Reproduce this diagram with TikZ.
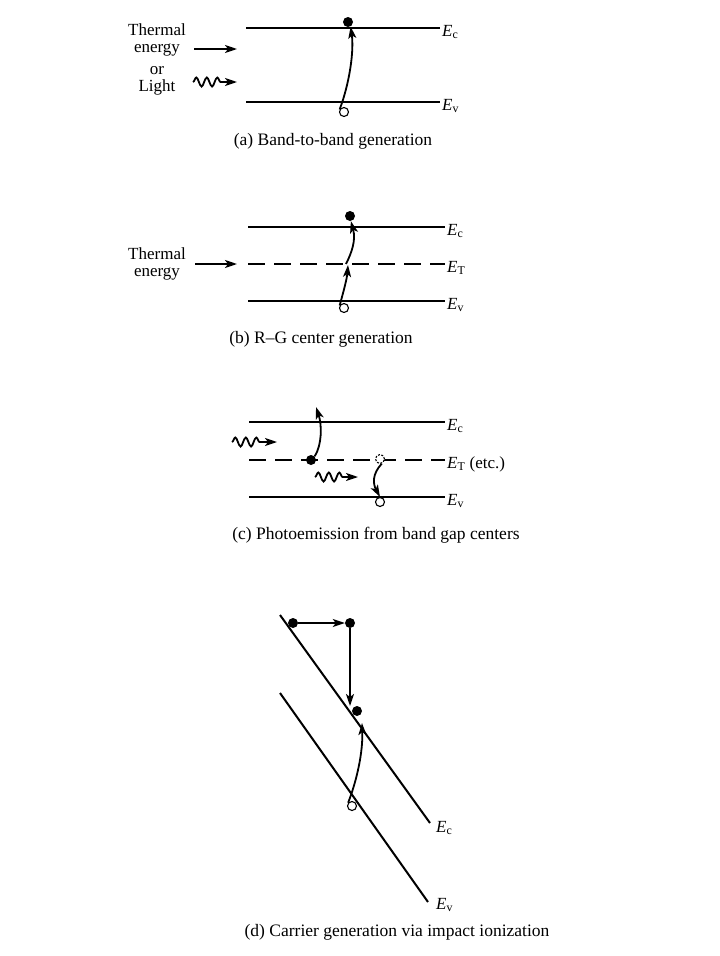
\documentclass[tikz,border=0pt]{standalone}
\usepackage{fontspec}
\setmainfont{Liberation Serif}
\usetikzlibrary{arrows.meta,decorations.pathmorphing,positioning}
\tikzset{
	band/.style={line width=2pt},
	trap/.style={line width=2pt, dash pattern=on 17pt off 9pt},
	elec/.style={circle, fill, inner sep=0pt, minimum size=10pt},
	hole/.style={circle, draw, line width=1.1pt, inner sep=0pt, minimum size=9pt},
	emptystate/.style={hole, dash pattern=on 2pt off 1.5pt},
	jump/.style={line width=1.8pt, -{Stealth[length=12pt,width=8pt,inset=3pt]}},
	photon/.style={jump, decorate, decoration={snake, amplitude=4.5pt, segment length=10.5pt, post length=13pt}},
	lbl/.style={font=\fontsize{17}{17.5}\selectfont, inner sep=1pt},
	subcap/.style={font=\fontsize{17.5}{18}\selectfont, inner sep=1pt}
}
\newcommand{\Eband}[1]{\textit{E}\textsubscript{#1}}

\begin{document}
\begin{tikzpicture}[x=1pt,y=-1pt]
	\useasboundingbox (0,0) rectangle (720,956);
	
	%(a) band-to-band
	\coordinate (ca1) at (246,28);	\coordinate (ca2) at (440,28);
	\coordinate (va1) at (246,102);	\coordinate (va2) at (440,102);
	\draw[band] (ca1)--(ca2);	\node[lbl,right=1pt of ca2,yshift=-4pt] (lca) {\Eband{c}};
	\draw[band] (va1)--(va2);	\node[lbl,right=1pt of va2,yshift=-4pt] (lva) {\Eband{v}};
	\node[elec] (ea) at (348,22) {};
	\node[hole] (ha) at (344,112) {};
	\draw[jump] (ha.150) .. controls (350,82) and (354,50) .. (ea.-60);
	\node[lbl,align=center] (tha) at (157,40) {Thermal\\energy};
	\node[lbl,align=center] (lia) at (157,81) {or\\Light};
	\coordinate (ta1) at (194,49);	\coordinate (ta2) at (237,49);	\draw[jump] (ta1)--(ta2);
	\coordinate (pa1) at (193,82);	\coordinate (pa2) at (237,82);	\draw[photon] (pa1)--(pa2);
	\node[subcap] (capa) at (333,141) {(a) Band-to-band generation};
	
	%(b) R-G center
	\coordinate (cb1) at (248,227);	\coordinate (cb2) at (445,227);
	\coordinate (tb1) at (248,264);	\coordinate (tb2) at (445,264);
	\coordinate (vb1) at (248,301);	\coordinate (vb2) at (445,301);
	\draw[band] (cb1)--(cb2);	\node[lbl,right=1pt of cb2,yshift=-4pt] (lcb) {\Eband{c}};
	\draw[trap] (tb1)--(tb2);	\node[lbl,right=1pt of tb2,yshift=-4pt] (ltb) {\Eband{T}};
	\draw[band] (vb1)--(vb2);	\node[lbl,right=1pt of vb2,yshift=-4pt] (lvb) {\Eband{v}};
	\node[elec] (eb) at (350,216) {};
	\node[hole] (hb) at (344,308) {};
	\coordinate (kb) at (346,264);
	\draw[jump] (hb.150) .. controls (344,290) and (347,278) .. (348,265);
	\draw[jump] (kb) .. controls (352,252) and (356,240) .. (eb.-80);
	\node[lbl,align=center] (thb) at (157,264) {Thermal\\energy};
	\coordinate (ab1) at (195,264);	\coordinate (ab2) at (237,264);	\draw[jump] (ab1)--(ab2);
	\node[subcap] (capb) at (321,339) {(b) R--G center generation};
	
	%(c) photoemission
	\coordinate (cc1) at (249,422);	\coordinate (cc2) at (445,422);
	\coordinate (tc1) at (249,460);	\coordinate (tc2) at (445,460);
	\coordinate (vc1) at (249,497);	\coordinate (vc2) at (445,497);
	\draw[band] (cc1)--(cc2);	\node[lbl,right=1pt of cc2,yshift=-4pt] (lcc) {\Eband{c}};
	\draw[trap] (tc1)--(tc2);	\node[lbl,right=1pt of tc2,yshift=-4pt] (ltc) {\Eband{T} (etc.)};
	\draw[band] (vc1)--(vc2);	\node[lbl,right=1pt of vc2,yshift=-4pt] (lvc) {\Eband{v}};
	\node[elec] (ec) at (311,460) {};
	\node[emptystate,fill=white] (sc) at (380,459) {};
	\node[hole,fill=white] (hc) at (380,502) {};
	\coordinate (uc) at (316,407);
	\draw[jump] (ec.north east) .. controls (322,445) and (322,425) .. (uc);
	\draw[jump] (sc.-70) .. controls (372,474) and (373,484) .. (hc.north);
	\coordinate (pc1) at (232,442);	\coordinate (pc2) at (277,442);	\draw[photon] (pc1)--(pc2);
	\coordinate (qc1) at (315,477);	\coordinate (qc2) at (358,477);	\draw[photon] (qc1)--(qc2);
	\node[subcap] (capc) at (376,535) {(c) Photoemission from band gap centers};
	
	%(d) impact ionization
	\coordinate (cd1) at (280,615);	\coordinate (cd2) at (430,823);
	\coordinate (vd1) at (280,693);	\coordinate (vd2) at (428,902);
	\draw[band] (cd1)--(cd2);	\node[lbl,right=5pt of cd2,yshift=-5pt] (lcd) {\Eband{c}};
	\draw[band] (vd1)--(vd2);	\node[lbl,right=7pt of vd2,yshift=-3pt] (lvd) {\Eband{v}};
	\node[elec] (d1) at (293,623) {};
	\node[elec] (d2) at (350,623) {};
	\node[elec] (d3) at (357,711) {};
	\node[hole,fill=white] (hd) at (352,806) {};
	\coordinate (kd) at (350,706);	\coordinate (td) at (362,723);
	\draw[jump] (d1)--(d2);
	\draw[jump] (d2)--(kd);
	\draw[jump] (hd.140) .. controls (357,780) and (363,752) .. (td);
	\node[subcap] (capd) at (397,932) {(d) Carrier generation via impact ionization};
\end{tikzpicture}
\end{document}
